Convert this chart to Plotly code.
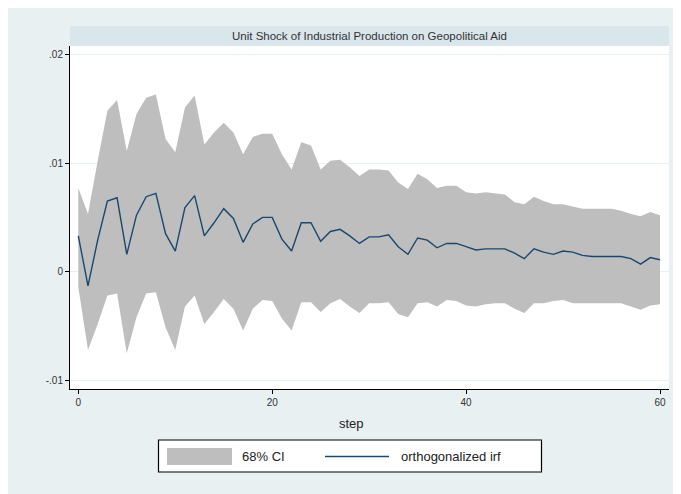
import plotly.graph_objects as go

# ---- data ----
steps = list(range(61))
irf = [0.0033, -0.0013, 0.0029, 0.0065, 0.0068, 0.0016, 0.0052, 0.0069, 0.0072, 0.0035,
       0.0019, 0.0059, 0.0070, 0.0033, 0.0045, 0.0058, 0.0049, 0.0027, 0.0044, 0.0050,
       0.0050, 0.0030, 0.0019, 0.0045, 0.0045, 0.0028, 0.0037, 0.0039, 0.0033, 0.0026,
       0.0032, 0.0032, 0.0034, 0.0023, 0.0016, 0.0031, 0.0029, 0.0022, 0.0026, 0.0026,
       0.0023, 0.0020, 0.0021, 0.0021, 0.0021, 0.0017, 0.0012, 0.0021, 0.0018, 0.0016,
       0.0019, 0.0018, 0.0015, 0.0014, 0.0014, 0.0014, 0.0014, 0.0012, 0.0007, 0.0013,
       0.0011]
ci_upper = [0.0077, 0.0053, 0.0102, 0.0148, 0.0158, 0.0111, 0.0145, 0.0160, 0.0163, 0.0122,
            0.0110, 0.0151, 0.0162, 0.0117, 0.0128, 0.0137, 0.0128, 0.0108, 0.0124, 0.0127,
            0.0127, 0.0108, 0.0094, 0.0119, 0.0116, 0.0094, 0.0102, 0.0103, 0.0096, 0.0088,
            0.0094, 0.0094, 0.0093, 0.0082, 0.0076, 0.0090, 0.0085, 0.0077, 0.0079, 0.0079,
            0.0073, 0.0072, 0.0073, 0.0072, 0.0071, 0.0064, 0.0062, 0.0069, 0.0065, 0.0062,
            0.0062, 0.0060, 0.0058, 0.0058, 0.0058, 0.0058, 0.0056, 0.0053, 0.0051, 0.0055,
            0.0052]
ci_lower = [-0.0014, -0.0072, -0.0048, -0.0022, -0.0020, -0.0075, -0.0042, -0.0020, -0.0019, -0.0051,
            -0.0072, -0.0032, -0.0022, -0.0048, -0.0037, -0.0025, -0.0034, -0.0054, -0.0034, -0.0026,
            -0.0027, -0.0043, -0.0054, -0.0028, -0.0028, -0.0037, -0.0029, -0.0025, -0.0032, -0.0038,
            -0.0029, -0.0029, -0.0028, -0.0039, -0.0042, -0.0029, -0.0028, -0.0032, -0.0026, -0.0027,
            -0.0031, -0.0032, -0.0030, -0.0029, -0.0029, -0.0034, -0.0038, -0.0029, -0.0029, -0.0027,
            -0.0026, -0.0029, -0.0029, -0.0029, -0.0029, -0.0029, -0.0029, -0.0032, -0.0035, -0.0031,
            -0.0030]
x_ticks = [0, 20, 40, 60]
x_ticklabels = ["0", "20", "40", "60"]
y_ticks = [-0.01, 0, 0.01, 0.02]
y_ticklabels = ["-.01", "0", ".01", ".02"]
title_text = "Unit Shock of Industrial Production on Geopolitical Aid"
x_title = "step"
legend_labels = ["68% CI", "orthogonalized irf"]

# ---- styling (page pixel coordinates; page body has an 8px margin) ----
OFF = 8
PAGE_W, PAGE_H = 681, 494
L, R, T, B = 70, 669, 46, 389
BG = "#E8F0F2"
BAND = "#D9E6EB"
CI_COL = "#BEBEBE"
LINE_COL = "#1A476F"
FONT = "Liberation Sans, Arial, sans-serif"


def px(xp):
    return (xp - L) / (R - L)


def py(yp):
    return (B - yp) / (B - T)


fig = go.Figure()
fig.add_trace(go.Scatter(x=steps, y=ci_lower, mode="lines", line=dict(width=0, color=CI_COL),
                         showlegend=False, hoverinfo="skip"))
fig.add_trace(go.Scatter(x=steps, y=ci_upper, mode="lines", line=dict(width=0, color=CI_COL),
                         fill="tonexty", fillcolor=CI_COL, name=legend_labels[0], showlegend=False))
fig.add_trace(go.Scatter(x=steps, y=irf, mode="lines", line=dict(width=1.4, color=LINE_COL),
                         name=legend_labels[1], showlegend=False))

shapes = [
    dict(type="rect", xref="paper", yref="paper", x0=0, x1=1, y0=py(45.7), y1=py(26),
         fillcolor=BAND, line=dict(width=0), layer="below"),
    dict(type="rect", xref="paper", yref="paper", x0=px(158.5), x1=px(541.5), y0=py(472), y1=py(440),
         fillcolor="white", line=dict(width=1.2, color="black")),
    dict(type="rect", xref="paper", yref="paper", x0=px(167), x1=px(232), y0=py(465), y1=py(448),
         fillcolor=CI_COL, line=dict(width=0)),
    dict(type="line", xref="paper", yref="paper", x0=px(325), x1=px(389), y0=py(456.5), y1=py(456.5),
         line=dict(width=1.4, color=LINE_COL)),
]

annotations = [
    dict(text=title_text, xref="paper", yref="paper", x=0.5, y=py(36), xanchor="center", yanchor="middle",
         showarrow=False, font=dict(family=FONT, size=11.5, color="#333333")),
    dict(text=x_title, xref="paper", yref="paper", x=px(351), y=py(424), xanchor="center", yanchor="middle",
         showarrow=False, font=dict(family=FONT, size=13, color="#222222")),
    dict(text=legend_labels[0], xref="paper", yref="paper", x=px(240), y=py(456.5), xanchor="left",
         yanchor="middle", showarrow=False, font=dict(family=FONT, size=13, color="#222222")),
    dict(text=legend_labels[1], xref="paper", yref="paper", x=px(399), y=py(456.5), xanchor="left",
         yanchor="middle", showarrow=False, font=dict(family=FONT, size=13, color="#222222")),
]

y_lo = -(B - 271.7) / 10870
y_hi = (271.7 - T) / 10870
x_lo = (L - 78.3) / 9.695
x_hi = (R - 78.3) / 9.695

fig.update_layout(
    width=PAGE_W - OFF, height=PAGE_H - OFF,
    margin=dict(l=L - OFF, r=PAGE_W - R, t=T - OFF, b=PAGE_H - B, pad=0),
    paper_bgcolor=BG, plot_bgcolor="white",
    shapes=shapes, annotations=annotations,
    showlegend=False,
    font=dict(family=FONT, size=10, color="#222222"),
    xaxis=dict(range=[x_lo, x_hi], tickvals=x_ticks, ticktext=x_ticklabels, showgrid=False,
               zeroline=False, showline=True, linecolor="black", linewidth=1, ticks="outside",
               ticklen=4, tickcolor="black", tickfont=dict(size=10, family=FONT, color="#333333")),
    yaxis=dict(range=[y_lo, y_hi], tickvals=y_ticks, ticktext=y_ticklabels, showgrid=True,
               gridcolor="#E6EFF1", gridwidth=1, zeroline=False, showline=True, linecolor="black",
               linewidth=1, ticks="outside", ticklen=4, tickcolor="black",
               tickfont=dict(size=10, family=FONT, color="#333333")),
)

fig.write_html("out.html")
